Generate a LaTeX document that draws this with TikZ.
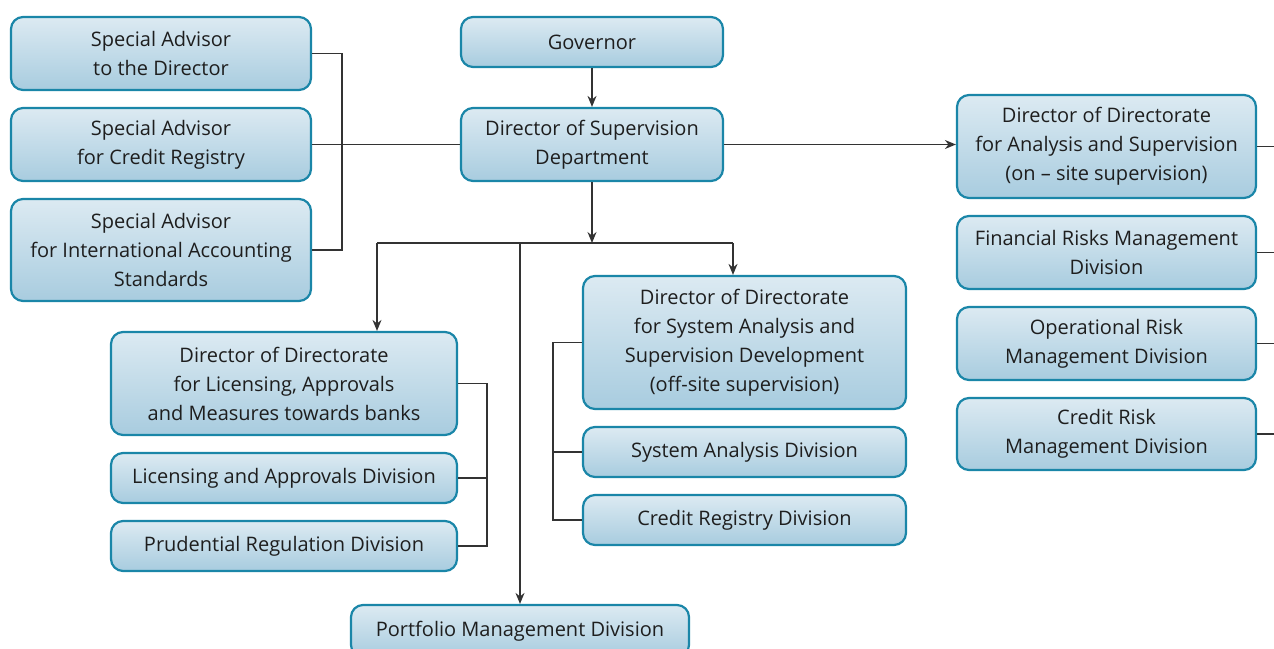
\documentclass[tikz,border=0pt]{standalone}
\usepackage{fontspec}
\setmainfont{Open Sans}
\usetikzlibrary{arrows.meta}
\definecolor{boxtop}{HTML}{DCEAF2}
\definecolor{boxbot}{HTML}{A8CCDF}
\definecolor{boxedge}{HTML}{1A86A8}
\definecolor{txt}{HTML}{1E1E1E}
\definecolor{ln}{HTML}{333333}
\tikzset{
  box/.style={draw=boxedge, line width=2.2pt, rounded corners=12pt,
    top color=boxtop, bottom color=boxbot, align=center, text=txt,
    font=\fontsize{20}{29}\selectfont, inner sep=0pt},
  conn/.style={draw=ln, line width=1.4pt},
  arr/.style={conn, -{Stealth[length=11pt,width=9pt]}}
}
\begin{document}
\begin{tikzpicture}[x=1pt,y=-1pt]
\useasboundingbox (0,0) rectangle (1274,648);
% left advisors
\node[box, minimum width=300pt, minimum height=73pt] (sa1) at (161,53.5) {Special Advisor\\to the Director};
\node[box, minimum width=300pt, minimum height=73pt] (sa2) at (161,144.5) {Special Advisor\\for Credit Registry};
\node[box, minimum width=300pt, minimum height=102pt] (sa3) at (161,250) {Special Advisor\\for International Accounting\\Standards};
% center
\node[box, minimum width=262pt, minimum height=50pt] (gov) at (592,42) {Governor};
\node[box, minimum width=262pt, minimum height=73pt] (dsd) at (592,144.5) {Director of Supervision\\Department};
% right
\node[box, minimum width=299pt, minimum height=103pt] (das) at (1106.5,146.5) {Director of Directorate\\for Analysis and Supervision\\(on -- site supervision)};
\node[box, minimum width=299pt, minimum height=73pt] (frm) at (1106.5,252.5) {Financial Risks Management\\Division};
\node[box, minimum width=299pt, minimum height=73pt] (orm) at (1106.5,343.5) {Operational Risk\\Management Division};
\node[box, minimum width=299pt, minimum height=72pt] (crm) at (1106.5,434) {Credit Risk\\Management Division};
% off-site
\node[box, minimum width=323pt, minimum height=133pt] (dsa) at (744.5,342.5) {Director of Directorate\\for System Analysis and\\Supervision Development\\(off-site supervision)};
\node[box, minimum width=323pt, minimum height=50pt] (sad) at (744.5,452) {System Analysis Division};
\node[box, minimum width=323pt, minimum height=50pt] (crd) at (744.5,520) {Credit Registry Division};
% licensing
\node[box, minimum width=346pt, minimum height=103pt] (dla) at (284,383.5) {Director of Directorate\\for Licensing, Approvals\\and Measures towards banks};
\node[box, minimum width=346pt, minimum height=50pt] (lad) at (284,478) {Licensing and Approvals Division};
\node[box, minimum width=346pt, minimum height=50pt] (prd) at (284,546) {Prudential Regulation Division};
% portfolio
\node[box, minimum width=338pt, minimum height=52pt] (pmd) at (520,631) {Portfolio Management Division};

% connectors: advisors
\draw[conn] (sa1.east) -- (342,53.5) |- (sa3.east);
\draw[conn] (sa2.east) -- (dsd.west);
% governor
\draw[arr] (gov.south) -- (dsd.north);
\draw[arr] (dsd.east) -- (dsd.east -| das.west);
% down branch
\coordinate (hub) at (592,243);
\draw[arr] (dsd.south) -- (hub);
\draw[conn] (377,243) -- (733,243);
\draw[arr] (377,243) -- (dla.north -| 377,0);
\draw[arr] (733,243) -- (dsa.north -| 733,0);
\draw[arr] (520,243) -- (pmd.north);
% right stubs
\coordinate (e1) at (1274,146.5);
\coordinate (e2) at (1274,252.5);
\coordinate (e3) at (1274,343.5);
\coordinate (e4) at (1274,434);
\draw[conn] (das.east) -- (e1);
\draw[conn] (frm.east) -- (e2);
\draw[conn] (orm.east) -- (e3);
\draw[conn] (crm.east) -- (e4);
% off-site bracket
\draw[conn] (dsa.west) -- (553,342.5) |- (crd.west);
\draw[conn] (553,452) -- (sad.west);
% licensing bracket
\draw[conn] (dla.east) -- (487,383.5) |- (prd.east);
\draw[conn] (487,478) -- (lad.east);
\end{tikzpicture}
\end{document}
